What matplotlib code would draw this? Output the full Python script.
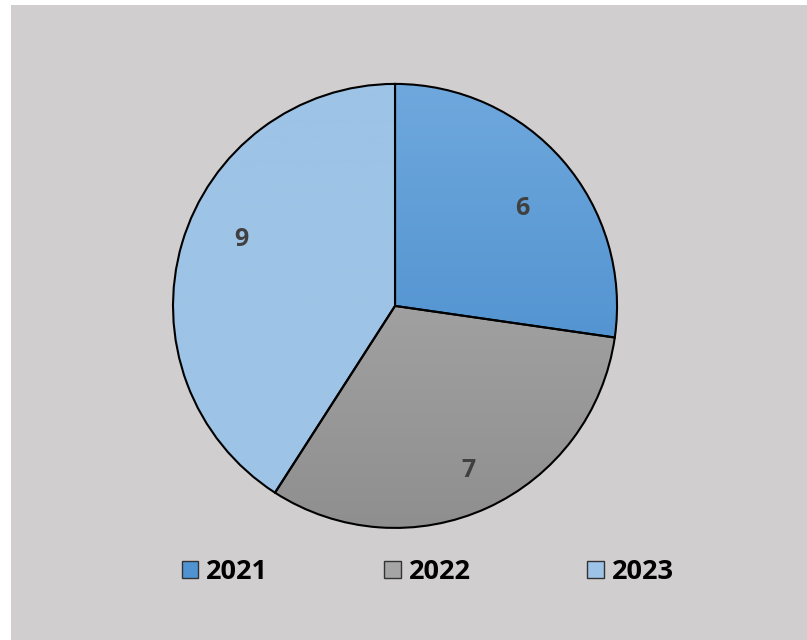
import numpy as np
import matplotlib.pyplot as plt
from matplotlib.patches import Rectangle, Patch

years = ['2021', '2022', '2023']
values = [6, 7, 9]
# top / bottom colours of each slice gradient
top_cols = ['#6fa8dd', '#b2b2b2', '#9dc3e6']
bot_cols = ['#3f86c8', '#8f8f8f', '#9dc3e6']

fig = plt.figure(figsize=(8.07, 6.4), dpi=100, facecolor='white')
# grey chart area
fig.patches.append(Rectangle((11/807, 0), 1, 1 - 5/640, transform=fig.transFigure,
                             facecolor='#d0cecf', edgecolor='none', zorder=-10))

ax = fig.add_axes([0.2144, 0.175, 0.5502, 0.694])
wedges, texts = ax.pie(values, labels=[str(v) for v in values], startangle=90,
                       counterclock=False, radius=1, labeldistance=0.74,
                       wedgeprops=dict(edgecolor='black', linewidth=1.5),
                       textprops=dict(fontsize=18, fontweight='bold', color='#404040',
                                      family='Open Sans'))

# vertical gradient fill inside each wedge
for w, c1, c2 in zip(wedges, top_cols, bot_cols):
    c1 = np.array(plt.matplotlib.colors.to_rgb(c1))
    c2 = np.array(plt.matplotlib.colors.to_rgb(c2))
    t = np.linspace(0, 1, 256)[:, None]
    grad = (c1 * (1 - t) + c2 * t)[:, None, :]
    w.set_facecolor('none')
    im = ax.imshow(grad, extent=[-1, 1, -1, 1], aspect='auto', zorder=0.5, origin='upper')
    im.set_clip_path(w)
    w.set_zorder(1)
for t in texts:
    t.set_zorder(3)

# label positions as in the reference (best-fit placement)
texts[0].set_position((0.54, 0.44))
texts[1].set_position((0.30, -0.74))
texts[2].set_position((-0.66, 0.30))

ax.set_xlim(-1, 1)
ax.set_ylim(-1, 1)
ax.set_aspect('equal')
ax.axis('off')

handles = [Patch(facecolor=tc, edgecolor='#333333', linewidth=1.0) for tc in
           ['#4f93d3', '#a5a5a5', '#9dc3e6']]
fig.legend(handles, years, loc='center', bbox_to_anchor=(0.530, 0.106), ncol=3,
           frameon=False, handlelength=0.6, handleheight=0.6, handletextpad=0.3,
           columnspacing=4.3, prop=dict(family='Open Sans', weight='bold', size=19.5))

fig.savefig('out.png', dpi=100, facecolor=fig.get_facecolor())
